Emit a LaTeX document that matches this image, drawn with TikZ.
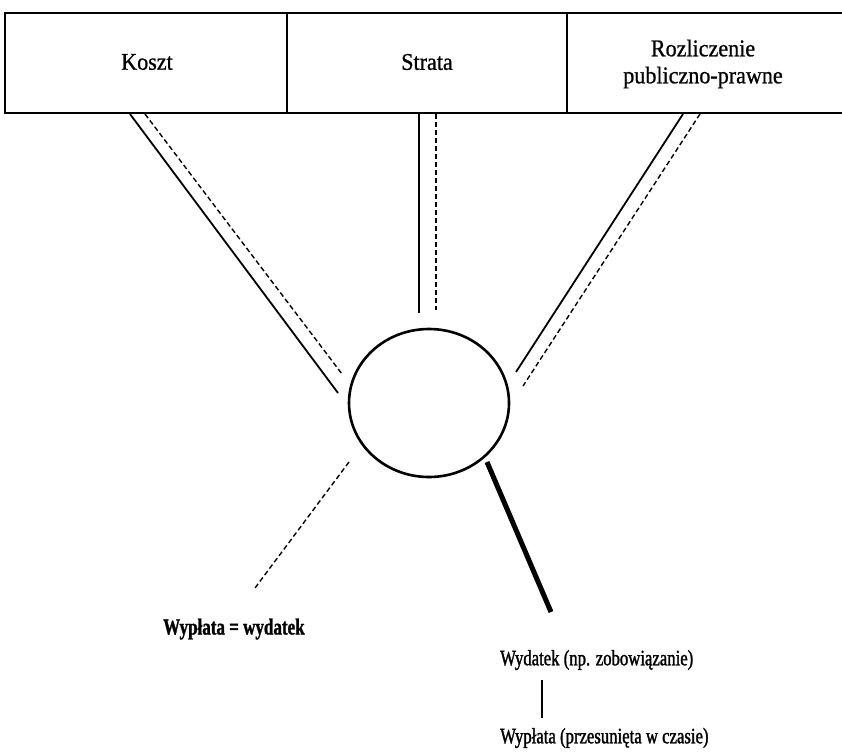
\documentclass[tikz,border=0pt]{standalone}
\usepackage{fontspec}
\setmainfont{Liberation Serif}
\newfontfamily\headfont[FakeStretch=0.92, FakeBold=0.8]{Liberation Serif}
\newfontfamily\leaffont[FakeStretch=0.76, FakeBold=1.4]{Liberation Serif}
\newfontfamily\leafboldfont[FakeStretch=0.74, FakeBold=1.2]{Liberation Serif Bold}
\usetikzlibrary{calc,shapes.geometric}
\begin{document}
\begin{tikzpicture}[x=1pt,y=-1pt,
  frame/.style={line width=2.6pt},
  boxlabel/.style={font=\headfont\fontsize{24}{27}\selectfont, align=center, inner sep=0pt},
  leaflabel/.style={font=\leaffont\fontsize{22}{26}\selectfont, inner sep=0pt, anchor=west},
  leafbold/.style={leaflabel, font=\leafboldfont\fontsize{23}{26}\selectfont},
  solidlink/.style={line width=1.8pt},
  dashlink/.style={line width=1.4pt, dash pattern=on 5pt off 3pt},
  heavylink/.style={line width=5pt},
  hubshape/.style={ellipse, draw, line width=2.6pt, minimum width=160pt, minimum height=148pt, inner sep=0pt}]

  % canvas
  \fill[white] (0,0) rectangle (842,753);
  \useasboundingbox (0,0) rectangle (842,753);

  % header strip with three cells
  \draw[frame] (842,13) -- (5,13) -- (5,113) -- (842,113);
  \draw[frame] (287,13) -- (287,113);
  \draw[frame] (567,13) -- (567,113);

  \node[boxlabel] (koszt)  at (147,62) {Koszt};
  \node[boxlabel] (strata) at (427,62) {Strata};
  \node[boxlabel] (rozl)   at (703,64) {Rozliczenie\\publiczno-prawne};

  % central circle
  \node[hubshape] (hub) at (429,403) {};

  % attachment points on the header and ends near the circle
  \coordinate (kS) at (130,114);  \coordinate (kSe) at (338,393);
  \coordinate (kD) at (145,114);  \coordinate (kDe) at (342,374);
  \coordinate (sS) at (419,114);  \coordinate (sSe) at (419,313);
  \coordinate (sD) at (436,114);  \coordinate (sDe) at (436,310);
  \coordinate (rS) at (683,114);  \coordinate (rSe) at (516,372);
  \coordinate (rD) at (700,114);  \coordinate (rDe) at (523,386);

  \draw[solidlink] (kS) -- (kSe);
  \draw[dashlink]  (kD) -- (kDe);
  \draw[solidlink] (sS) -- (sSe);
  \draw[dashlink]  (sD) -- (sDe);
  \draw[solidlink] (rS) -- (rSe);
  \draw[dashlink]  (rD) -- (rDe);

  % outcomes below the circle
  \node[leafbold]  (wyp1) at (163,629) {Wypłata = wydatek};
  \node[leaflabel] (wyd)  at (500,660) {Wydatek (np. zobowiązanie)};
  \node[leaflabel] (wyp2) at (500,738) {Wypłata (przesunięta w czasie)};

  \coordinate (lA) at (349,462); \coordinate (lB) at (255,588);
  \coordinate (hA) at (487,462); \coordinate (hB) at (551,612);
  \draw[dashlink]  (lA) -- (lB);
  \draw[heavylink] (hA) -- (hB);

  \path (wyd.west)  ++(42,20)  coordinate (vA);
  \path (wyp2.west) ++(42,-20) coordinate (vB);
  \draw[solidlink] (vA) -- (vB);
\end{tikzpicture}
\end{document}
